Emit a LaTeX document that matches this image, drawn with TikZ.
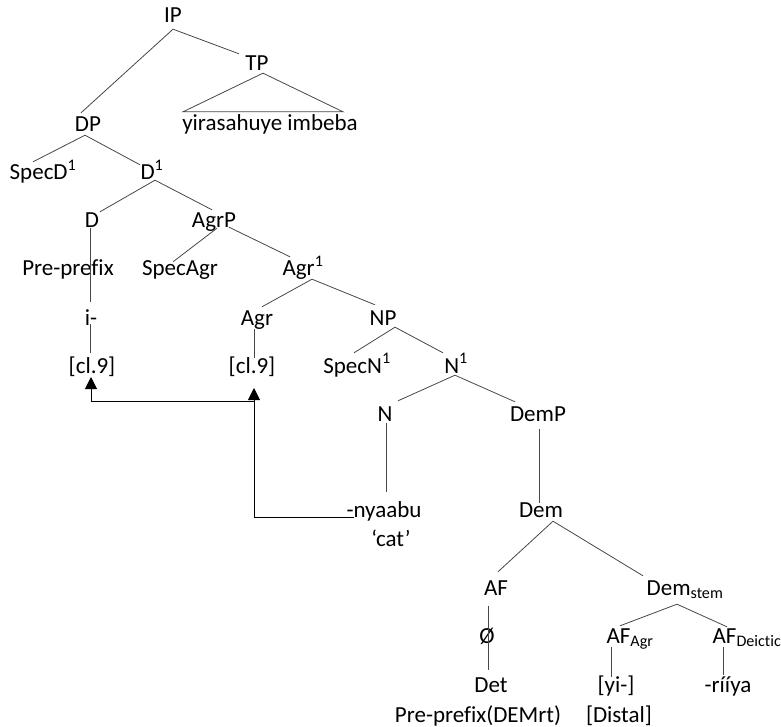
\documentclass[tikz,border=0pt]{standalone}
\usepackage{fontspec}
\setmainfont{Carlito}[Ligatures={TeX,NoCommon}]
\usetikzlibrary{arrows.meta}
\begin{document}
\begin{tikzpicture}[x=1pt,y=-1pt,
  lbl/.style={anchor=base, inner sep=0pt, text height=19pt, text depth=3pt,
    font=\fontsize{23}{27}\selectfont},
  branch/.style={line width=0.8pt, draw=black!72},
  move/.style={line width=0.9pt, draw=black, -{Triangle[width=12pt,length=12pt]}}]
\useasboundingbox (0,0) rectangle (781,727);

% labels of the tree
\node[lbl] (ip) at (173,23) {IP};
\node[lbl] (tp) at (257,71) {TP};
\node[lbl] (dp) at (88,132) {DP};
\node[lbl] (yira) at (270,131) {yirasahuye imbeba};
\node[lbl] (specd) at (43,180) {SpecD\textsuperscript{1}};
\node[lbl] (done) at (152,180) {D\textsuperscript{1}};
\node[lbl] (d) at (92,228) {D};
\node[lbl] (agrp) at (214,228) {AgrP};
\node[lbl] (prepre) at (68,276) {Pre-prefix};
\node[lbl] (specagr) at (180,276) {SpecAgr};
\node[lbl] (agrone) at (303,276) {Agr\textsuperscript{1}};
\node[lbl] (iaff) at (91,325) {i-};
\node[lbl] (agr) at (257,325) {Agr};
\node[lbl] (np) at (383,325) {NP};
\node[lbl] (cll) at (92,373) {[cl.9]};
\node[lbl] (clr) at (252,373) {[cl.9]};
\node[lbl] (specn) at (357,373) {SpecN\textsuperscript{1}};
\node[lbl] (none) at (456,373) {N\textsuperscript{1}};
\node[lbl] (n) at (385,421) {N};
\node[lbl] (demp) at (538,421) {DemP};
\node[lbl] (nyaabu) at (384,517) {-nyaabu};
\node[lbl] (cat) at (391,546) {‘cat’};
\node[lbl] (dem) at (541,517) {Dem};
\node[lbl] (af) at (496,595) {AF};
\node[lbl] (demstem) at (685,595) {Dem\textsubscript{stem}};
\node[lbl] (oslash) at (487,643) {Ø};
\node[lbl] (afagr) at (630,643) {AF\textsubscript{Agr}};
\node[lbl] (afdei) at (747,643) {AF\textsubscript{Deictic}};
\node[lbl] (det) at (491,692) {Det};
\node[lbl] (yi) at (616,692) {[yi-]};
\node[lbl] (riiya) at (728,692) {-rííya};
\node[lbl] (prepdem) at (478,722) {Pre-prefix(DEMrt)};
\node[lbl] (distal) at (619,722) {[Distal]};

% branches
\draw[branch] ([shift={(0,3)}]ip.south) -- ([shift={(-7,0)}]dp.north);
\draw[branch] ([shift={(0,3)}]ip.south) -- ([shift={(-18,2)}]tp.north);
\draw[branch] ([shift={(6,-1)}]tp.south) -- ([shift={(-87,0)}]yira.north)
  -- ([shift={(73,0)}]yira.north) -- cycle;
\draw[branch] ([shift={(-3,0)}]dp.south) -- ([shift={(-10,1)}]specd.north);
\draw[branch] ([shift={(-3,0)}]dp.south) -- ([shift={(-12,4)}]done.north);
\draw[branch] ([shift={(3,-3)}]done.south) -- ([shift={(8,3)}]d.north);
\draw[branch] ([shift={(3,-3)}]done.south) -- ([shift={(-2,1)}]agrp.north);
\draw[branch] ([shift={(3,-3)}]agrp.south) -- ([shift={(-7,5)}]specagr.north);
\draw[branch] ([shift={(15,-4)}]agrp.south) -- ([shift={(-13,0)}]agrone.north);
\draw[branch] ([shift={(9,0)}]agrone.south) -- ([shift={(5,1)}]agr.north);
\draw[branch] ([shift={(9,0)}]agrone.south) -- ([shift={(-8,-1)}]np.north);
\draw[branch] ([shift={(12,-1)}]np.south) -- ([shift={(-3,-1)}]specn.north);
\draw[branch] ([shift={(12,-1)}]np.south) -- ([shift={(-13,-1)}]none.north);
\draw[branch] ([shift={(-1,-1)}]none.south) -- ([shift={(13,-1)}]n.north);
\draw[branch] ([shift={(-1,-1)}]none.south) -- ([shift={(-23,0)}]demp.north);
\draw[branch] ([shift={(1,-1)}]n.south) -- ([shift={(2,-6)}]nyaabu.north);
\draw[branch] ([shift={(1,5)}]demp.south) -- ([shift={(-2,5)}]dem.north);
\draw[branch] ([shift={(12,1)}]dem.south) -- ([shift={(2,-4)}]af.north);
\draw[branch] ([shift={(12,1)}]dem.south) -- ([shift={(-42,0)}]demstem.north);
\draw[branch] ([shift={(-8,6)}]demstem.south) -- ([shift={(-10,2)}]afagr.north);
\draw[branch] ([shift={(-8,6)}]demstem.south) -- ([shift={(-20,3)}]afdei.north);
\draw[branch] ([shift={(-8,8)}]af.south) -- ([shift={(-3,-3)}]det.north);
\draw[branch] ([shift={(-19,1)}]afagr.south) -- ([shift={(-5,4)}]yi.north);
\draw[branch] ([shift={(-24,1)}]afdei.south) -- ([shift={(-5,2)}]riiya.north);
\draw[branch] ([shift={(-2,-3)}]d.south) -- ([shift={(-1,-4)}]iaff.north);
\draw[branch] ([shift={(-1,-4)}]iaff.south) -- ([shift={(-2,-1)}]cll.north);
\draw[branch] ([shift={(-3,1)}]agr.south) -- ([shift={(2,4)}]clr.north);

% agreement movement
\draw[move] ([shift={(8,0)}]nyaabu.base west) -| ([shift={(2,15)}]clr.base);
\draw[move] ([shift={(2,28)}]clr.base) -| ([shift={(-1,4)}]cll.base);
\end{tikzpicture}
\end{document}
